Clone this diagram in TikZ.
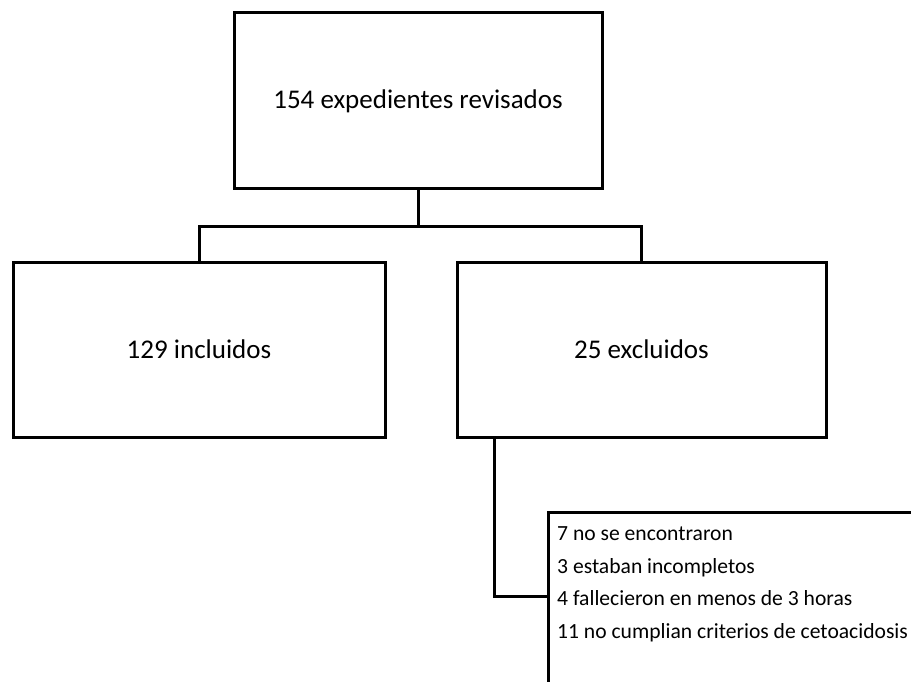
\documentclass[tikz,border=0pt]{standalone}
\usepackage{fontspec}
\setmainfont{Carlito}
\begin{document}
\begin{tikzpicture}[x=1pt,y=-1pt,
  box/.style={draw=black,line width=3pt,fill=white,inner sep=0pt,font=\fontsize{27}{31}\selectfont},
  conn/.style={draw=black,line width=3pt},
  item/.style={anchor=base west,inner sep=0pt,font=\fontsize{21.6}{25}\selectfont}]
\useasboundingbox (0,0) rectangle (911,682);
\clip (0,0) rectangle (911,682);
\node[box,minimum width=368pt,minimum height=176pt] (top) at (418,101) {154 expedientes revisados};
\node[box,minimum width=372pt,minimum height=175pt] (inc) at (199,349.5) {129 incluidos};
\node[box,minimum width=369pt,minimum height=175pt] (exc) at (641.5,349.5) {25 excluidos};
\node[draw=black,line width=3pt,minimum width=400pt,minimum height=220pt,inner sep=0pt,anchor=north west] (det) at (547,511) {};
\coordinate (j) at (418,226);
\coordinate (e) at (494,596);
\draw[conn] (top.south) -- (j);
\draw[conn] (inc.north) |- (j) -| (exc.north);
\draw[conn] (exc.south -| e) -- (e) -- (e -| det.west);
\node[item] (l1) at (557,540) {7 no se encontraron};
\node[item] (l2) at (557,573) {3 estaban incompletos};
\node[item] (l3) at (557,605.5) {4 fallecieron en menos de 3 horas};
\node[item] (l4) at (557,638) {11 no cumplian criterios de cetoacidosis};
\end{tikzpicture}
\end{document}
